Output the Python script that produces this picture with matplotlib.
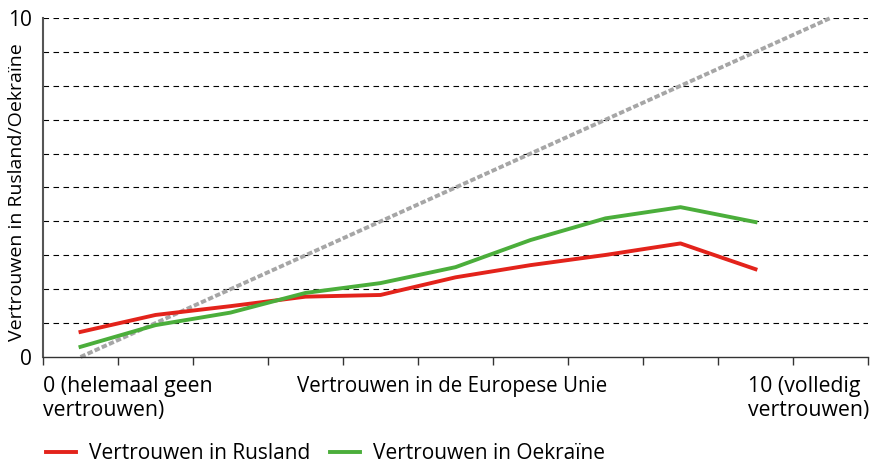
import matplotlib
matplotlib.use("Agg")
import matplotlib.pyplot as plt
from matplotlib.transforms import blended_transform_factory

# data
categories = list(range(11))  # 0 .. 10 trust in EU
rusland = [0.74, 1.24, 1.50, 1.78, 1.83, 2.35, 2.71, 3.01, 3.35, 2.59]
oekraine = [0.30, 0.94, 1.31, 1.89, 2.18, 2.65, 3.45, 4.09, 4.42, 3.98]
diagonaal = [0, 10]
x_labels = ["0 (helemaal geen\nvertrouwen)", "Vertrouwen in de Europese Unie", "10 (volledig\nvertrouwen)"]
series_names = ["Vertrouwen in Rusland", "Vertrouwen in Oekraïne"]
y_label = "Vertrouwen in Rusland/Oekraïne"

plt.rcParams['font.family'] = ['Open Sans', 'DejaVu Sans']
RED = "#e3231b"
GREEN = "#4bae3b"

fig = plt.figure(figsize=(8.74, 4.65), dpi=100)
ax = fig.add_axes([43 / 874, 108 / 465, 825 / 874, 339 / 465])

# horizontal dashed grid
for v in range(1, 11):
    ax.axhline(v, color="black", lw=0.8, ls=(0, (5, 4)), zorder=1)

ax.plot(diagonaal, diagonaal, color="#a6a6a6", lw=2.8, ls=(0, (1.4, 0.6)),
        zorder=2, clip_on=False)
ax.plot(categories[:len(rusland)], rusland, color=RED, lw=2.8, label=series_names[0], zorder=3)
ax.plot(categories[:len(oekraine)], oekraine, color=GREEN, lw=2.8, label=series_names[1], zorder=3)

ax.set_xlim(-0.5, 10.5)
ax.set_ylim(0, 10)
ax.set_xticks([c - 0.5 for c in categories] + [10.5])
ax.set_xticklabels([])
ax.tick_params(axis="x", length=6, width=1, color="#333333", direction="out")
ax.set_yticks([0, 10])
ax.set_yticklabels(["0", "10"], fontsize=15)
ax.tick_params(axis="y", length=0, pad=8)

for s in ["top", "right"]:
    ax.spines[s].set_visible(False)
ax.spines["left"].set_color("#555555")
ax.spines["left"].set_linewidth(1.5)
ax.spines["bottom"].set_color("#333333")
ax.spines["bottom"].set_linewidth(1)

ax.set_ylabel(y_label, fontsize=14)
ax.yaxis.set_label_coords(-0.021, 0.487)

tr = blended_transform_factory(ax.transAxes, fig.transFigure)
y_top = 1 - 376 / 465
ax.text(0.0, y_top, x_labels[0], transform=tr, ha="left", va="top", fontsize=15.3, linespacing=1.2)
ax.text(0.496, y_top, x_labels[1], transform=tr, ha="center", va="top", fontsize=14.8)
ax.text(1.002, y_top, x_labels[2], transform=tr, ha="right", va="top", fontsize=15.3,
        linespacing=1.2, multialignment="left")

leg = fig.legend(loc="lower left", bbox_to_anchor=(27 / 874, -0.039), ncol=2, frameon=False,
                 prop={"family": ["Liberation Sans Narrow", "Open Sans"], "size": 15},
                 handlelength=1.44, columnspacing=0.96, handletextpad=0.63)

fig.savefig("out.png", dpi=100)
